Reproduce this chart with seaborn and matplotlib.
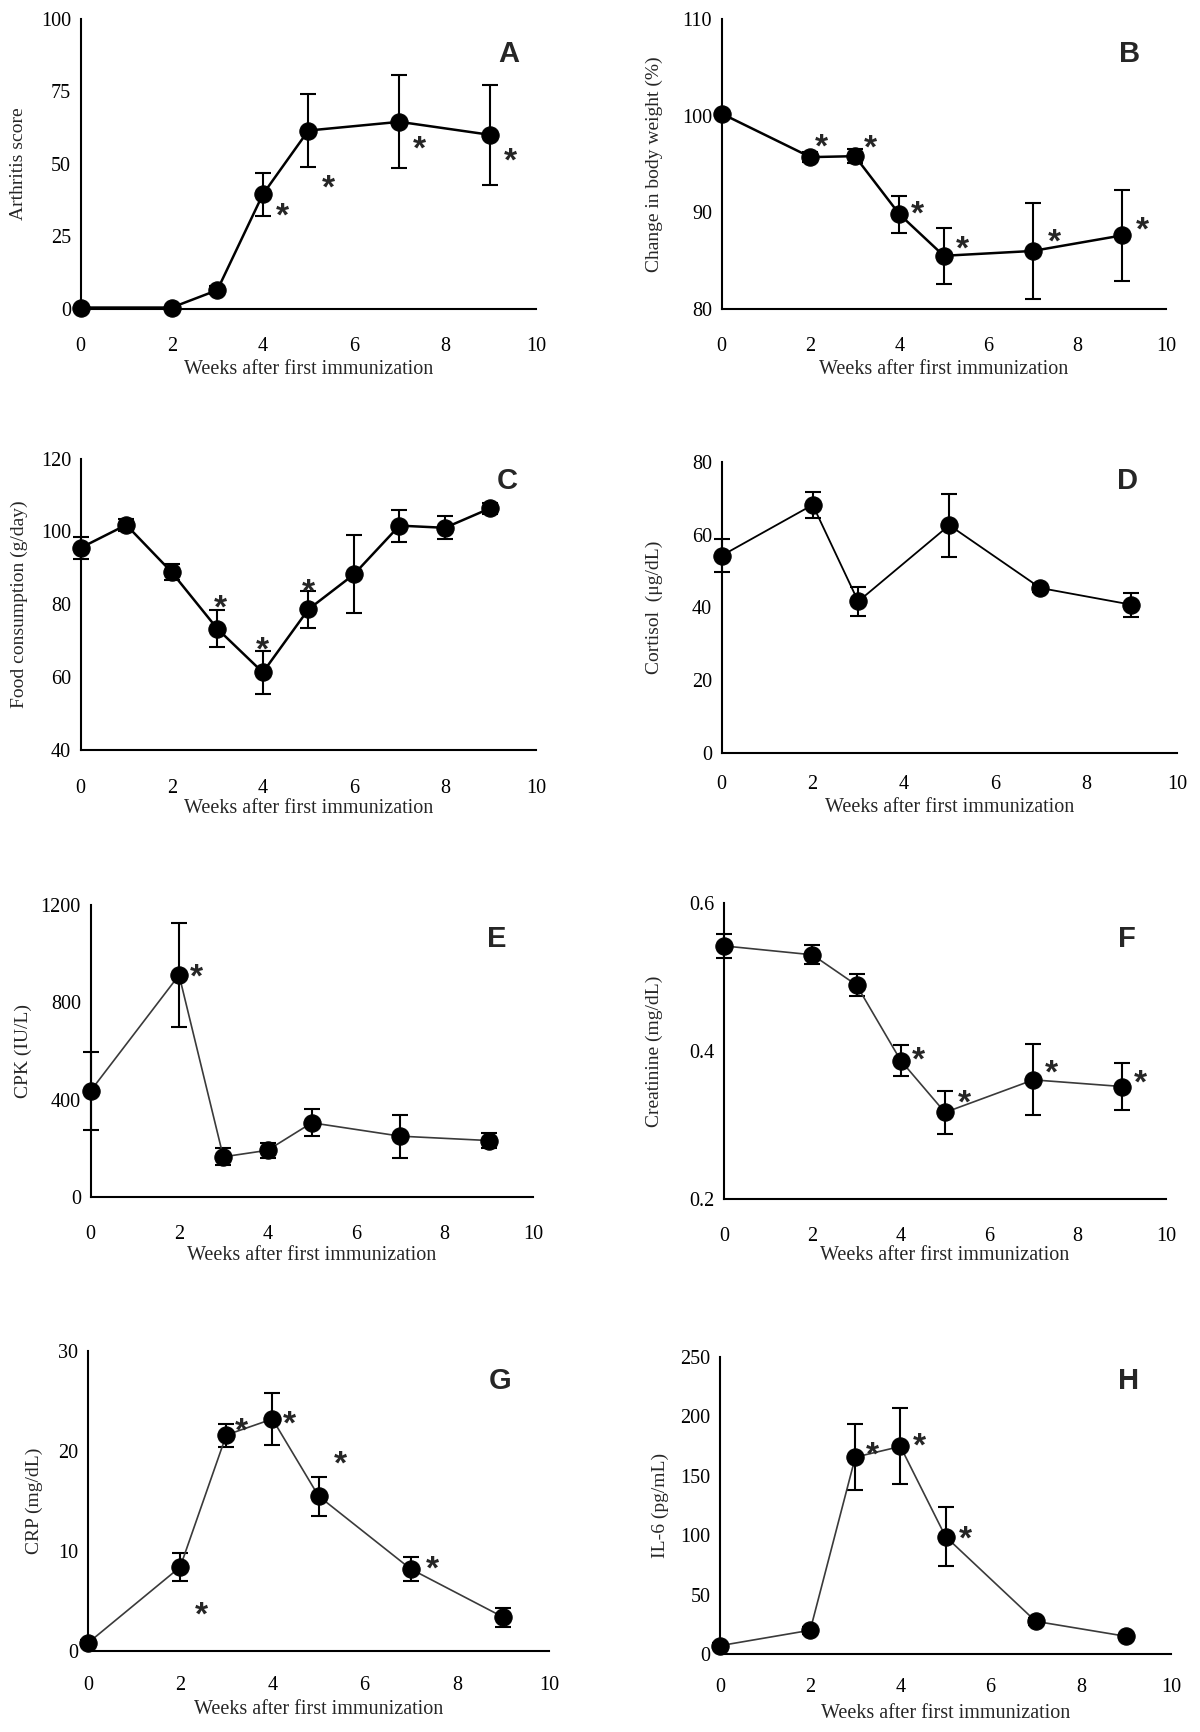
"""
Time course after first immunization: arthritis score, body weight, food
consumption and serum markers (8 panels, mean +/- SE, * = significant).
"""

import matplotlib

matplotlib.use("Agg")
import matplotlib.pyplot as plt
import seaborn as sns

W, H, DPI = 1200, 1732, 100

# ---- data ------------------------------------------------------------------
weeks = [0, 2, 3, 4, 5, 7, 9]
weeks_food = [0, 1, 2, 3, 4, 5, 6, 7, 8, 9]
weeks_cortisol = [0, 2, 3, 5, 7, 9]

arthritis = [0.5, 0.5, 6.5, 39.5, 61.5, 64.5, 60.0]
arthritis_err = [0, 0, 1.5, 7.5, 12.5, 16.0, 17.3]
arthritis_stars = [(4.42, 35), (5.45, 44.5), (7.45, 58), (9.43, 54)]

body_weight = [100.2, 95.7, 95.8, 89.8, 85.5, 86.0, 87.6]
body_weight_err = [0.2, 0.5, 0.7, 1.9, 2.9, 5.0, 4.7]
body_weight_stars = [(2.24, 97.6), (3.34, 97.5), (4.40, 90.7), (5.41, 87.1),
                     (7.48, 87.8), (9.48, 89.0)]

food = [95.5, 101.8, 88.8, 73.3, 61.3, 78.6, 88.2, 101.6, 101.0, 106.4]
food_err = [3.0, 1.7, 2.2, 5.0, 5.9, 5.0, 10.7, 4.4, 3.2, 1.5]
food_stars = [(3.06, 81.2), (4.0, 69.7), (5.0, 85.8)]

cortisol = [54.2, 68.2, 41.6, 62.6, 45.3, 40.7]
cortisol_err = [4.5, 3.6, 3.9, 8.7, 1.2, 3.3]
cortisol_stars = []

cpk = [436, 912, 165, 192, 305, 250, 232]
cpk_err = [160, 215, 35, 30, 55, 88, 32]
cpk_stars = [(2.4, 937)]

creatinine = [0.542, 0.530, 0.489, 0.387, 0.317, 0.361, 0.352]
creatinine_err = [0.016, 0.013, 0.0145, 0.021, 0.029, 0.048, 0.032]
creatinine_stars = [(4.39, 0.399), (5.45, 0.341), (7.40, 0.382), (9.41, 0.368)]

crp = [0.8, 8.4, 21.6, 23.2, 15.5, 8.2, 3.4]
crp_err = [0.3, 1.4, 1.15, 2.6, 1.95, 1.2, 0.95]
crp_stars = [(2.47, 4.4), (3.32, 22.8), (4.37, 23.5), (5.47, 19.5), (7.48, 9.0)]

il6 = [7, 20, 165.7, 174.7, 98.9, 27.5, 14.9]
il6_err = [2, 3, 28, 32, 24.5, 3, 2]
il6_stars = [(3.39, 174.7), (4.42, 182.2), (5.45, 104)]

XLABEL = "Weeks after first immunization"

# ---- layout (pixel boxes of each plot area) ---------------------------------
# letter, x, y, err, stars, ylabel, ylim, yticks,
# (left, right, top, bottom), ylabel_x, ticklabel_y, xlabel_y, letter_pos, style
panels = [
    ("A", weeks, arthritis, arthritis_err, arthritis_stars, "Arthritis score",
     (0, 100), [0, 25, 50, 75, 100],
     (80.7, 536, 18.8, 309), 19, 344, 370, (0.94, 0.88), "bold"),
    ("B", weeks, body_weight, body_weight_err, body_weight_stars,
     "Change in body weight (%)", (80, 110), [80, 90, 100, 110],
     (721.6, 1166, 18.8, 309), 654, 344, 370, (0.917, 0.88), "bold"),
    ("C", weeks_food, food, food_err, food_stars, "Food consumption (g/day)",
     (40, 120), [40, 60, 80, 100, 120],
     (80.7, 536, 458.6, 750), 19, 786, 809, (0.936, 0.923), "bold"),
    ("D", weeks_cortisol, cortisol, cortisol_err, cortisol_stars,
     "Cortisol  (\u03bcg/dL)", (0, 80), [0, 20, 40, 60, 80],
     (721.6, 1177, 462, 752.5), 654, 782, 807, (0.892, 0.935), "mid"),
    ("E", weeks, cpk, cpk_err, cpk_stars, "CPK (IU/L)",
     (0, 1200), [0, 400, 800, 1200],
     (90.6, 533, 905, 1197), 23, 1232, 1256, (0.919, 0.884), "thin"),
    ("F", weeks, creatinine, creatinine_err, creatinine_stars,
     "Creatinine (mg/dL)", (0.2, 0.6), [0.2, 0.4, 0.6],
     (724, 1166, 903, 1199), 654, 1234, 1256, (0.912, 0.878), "thin"),
    ("G", weeks, crp, crp_err, crp_stars, "CRP (mg/dL)",
     (0, 30), [0, 10, 20, 30],
     (88, 549, 1351, 1651), 34, 1683, 1709, (0.893, 0.90), "thin"),
    ("H", weeks, il6, il6_err, il6_stars, "IL-6 (pg/mL)",
     (0, 250), [0, 50, 100, 150, 200, 250],
     (720, 1171, 1357, 1654), 660, 1685, 1713, (0.905, 0.92), "thin"),
]

LINE = {"bold": ("black", 1.8), "mid": ("black", 1.3), "thin": ("#3a3a3a", 1.2)}

sns.set_theme(style="white")
plt.rcParams["font.family"] = ["Liberation Serif", "DejaVu Serif"]

fig = plt.figure(figsize=(W / DPI, H / DPI), dpi=DPI)
fig.patch.set_facecolor("white")

PX2PT = 72 / DPI

for (letter, x, y, err, stars, ylabel, ylim, yticks, box, ylab_x,
     tick_y, xlab_y, letter_pos, style) in panels:
    left, right, top, bottom = box
    ax = fig.add_axes([left / W, 1 - bottom / H, (right - left) / W,
                       (bottom - top) / H])
    color, lw = LINE[style]

    ax.errorbar(x, y, yerr=err, fmt="none", ecolor="black", elinewidth=1.5,
                capsize=6, capthick=1.5, clip_on=False, zorder=2)
    sns.lineplot(x=x, y=y, ax=ax, color=color, linewidth=lw, marker="o",
                 markersize=12.5, markerfacecolor="black",
                 markeredgecolor="black", clip_on=False, zorder=3)

    for sx, sy in stars:
        ax.annotate("*", xy=(sx, sy), xytext=(0, -13), textcoords="offset points",
                    ha="center", va="baseline", fontsize=24, fontweight="bold",
                    family="Liberation Sans")

    ax.text(letter_pos[0], letter_pos[1], letter, transform=ax.transAxes,
            ha="center", va="center", fontsize=21, fontweight="bold",
            family="Liberation Sans")

    ax.set_xlim(0, 10)
    ax.set_ylim(*ylim)
    ax.set_xticks([0, 2, 4, 6, 8, 10])
    ax.set_yticks(yticks)
    ax.set_yticklabels([f"{t:g}" for t in yticks])
    for side in ("top", "right"):
        ax.spines[side].set_visible(False)
    for side in ("left", "bottom"):
        ax.spines[side].set_linewidth(1.5)
        ax.spines[side].set_color("black")
    xpad = (tick_y - bottom - 6.9) * PX2PT
    ax.tick_params(axis="x", direction="in", length=5, width=1.5,
                   labelsize=14.5, pad=xpad, colors="black")
    ax.tick_params(axis="y", direction="in", length=5, width=1.5,
                   labelsize=14.5, pad=7, colors="black")

    ax.set_xlabel(XLABEL, fontsize=14.5)
    ax.set_ylabel(ylabel, fontsize=14)
    ax.xaxis.label.set_va("center")
    ax.yaxis.label.set_va("center")
    ax.xaxis.set_label_coords(0.5, -(xlab_y - bottom) / (bottom - top))
    ax.yaxis.set_label_coords((ylab_x - left) / (right - left), 0.5)
    ax.grid(False)

fig.savefig("out.png", dpi=DPI, facecolor="white")
